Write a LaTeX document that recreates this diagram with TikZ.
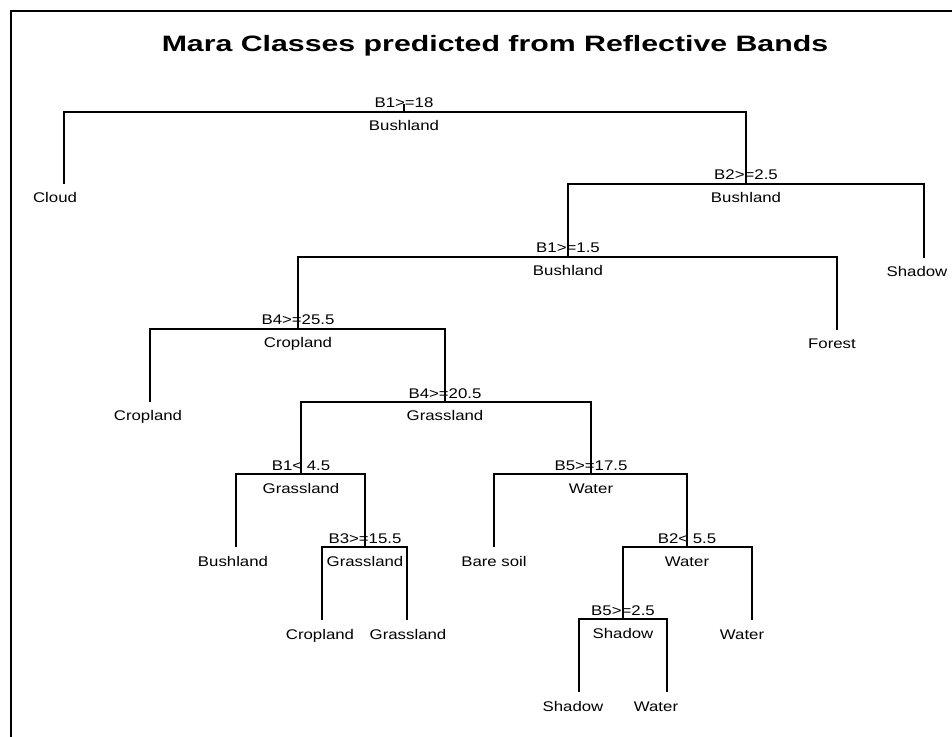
\documentclass[tikz,border=0pt]{standalone}
\usepackage{fontspec}
\setmainfont{Liberation Sans}
\newfontfamily\labfont[FakeStretch=1.2]{Liberation Sans}
\newfontfamily\titlefont[FakeStretch=1.36]{Liberation Sans Bold}

\tikzset{
  branch/.style={line width=1.3pt},
  frameline/.style={line width=2.2pt},
  splitlab/.style={anchor=base, inner sep=0pt, yshift=3pt, font=\labfont\fontsize{10.5}{12}\selectfont},
  yvallab/.style={anchor=base, inner sep=0pt, yshift=-14.25pt, font=\labfont\fontsize{10.5}{12}\selectfont},
  leaflab/.style={anchor=base, inner sep=0pt, font=\labfont\fontsize{10.5}{12}\selectfont},
  titletxt/.style={anchor=base, inner sep=0pt, font=\titlefont\fontsize{16.7}{20}\selectfont}
}

\begin{document}
\begin{tikzpicture}[x=0.75pt,y=-0.75pt]
  \useasboundingbox (0,0) rectangle (952,737);

  % frame
  \draw[frameline] (11,745) -- (11,11) -- (960,11);

  % title
  \node[titletxt] (title) at (495,52) {Mara Classes predicted from Reflective Bands};

  % split nodes
  \coordinate (n1) at (404,112);
  \coordinate (n3) at (746,184);
  \coordinate (n6) at (568,257);
  \coordinate (n12) at (298,329);
  \coordinate (n25) at (445,402);
  \coordinate (n50) at (301,474);
  \coordinate (n101) at (365,547);
  \coordinate (n51) at (591,474);
  \coordinate (n103) at (687,547);
  \coordinate (n206) at (623,619);
  \coordinate (stub) at (404,104);

  % leaves
  \coordinate (n2) at (64,184);
  \coordinate (n7) at (924,258);
  \coordinate (n13) at (837,330);
  \coordinate (n24) at (150,402);
  \coordinate (n100) at (236,547);
  \coordinate (n202) at (322,620);
  \coordinate (n203) at (407,620);
  \coordinate (n102) at (494,547);
  \coordinate (n207) at (752,620);
  \coordinate (n412) at (579,692);
  \coordinate (n413) at (667,692);

  % branches
  \draw[branch] (stub) -- (n1);
  \foreach \p/\c in {n1/n2, n1/n3, n3/n6, n3/n7, n6/n12, n6/n13, n12/n24, n12/n25,
                     n25/n50, n25/n51, n50/n100, n50/n101, n101/n202, n101/n203,
                     n51/n102, n51/n103, n103/n206, n103/n207, n206/n412, n206/n413}
    \draw[branch] (\p) -| (\c);

  % split and class labels
  \foreach \n/\s/\v in {n1/B1>=18/Bushland, n3/B2>=2.5/Bushland, n6/B1>=1.5/Bushland,
                        n12/B4>=25.5/Cropland, n25/B4>=20.5/Grassland, n50/B1< 4.5/Grassland,
                        n101/B3>=15.5/Grassland, n51/B5>=17.5/Water, n103/B2< 5.5/Water,
                        n206/B5>=2.5/Shadow}
    \path (\n) node[splitlab] (s\n) {\s} node[yvallab] (v\n) {\v};

  % leaf labels
  \node[leaflab] (l2) at (55,203) {Cloud};
  \node[leaflab] (l7) at (917,277) {Shadow};
  \node[leaflab] (l13) at (832,349) {Forest};
  \node[leaflab] (l24) at (148,421) {Cropland};
  \node[leaflab] (l100) at (233,566) {Bushland};
  \node[leaflab] (l202) at (320,639) {Cropland};
  \node[leaflab] (l203) at (408,639) {Grassland};
  \node[leaflab] (l102) at (494,566) {Bare soil};
  \node[leaflab] (l207) at (742,639) {Water};
  \node[leaflab] (l412) at (573,711) {Shadow};
  \node[leaflab] (l413) at (656,711) {Water};
\end{tikzpicture}
\end{document}
